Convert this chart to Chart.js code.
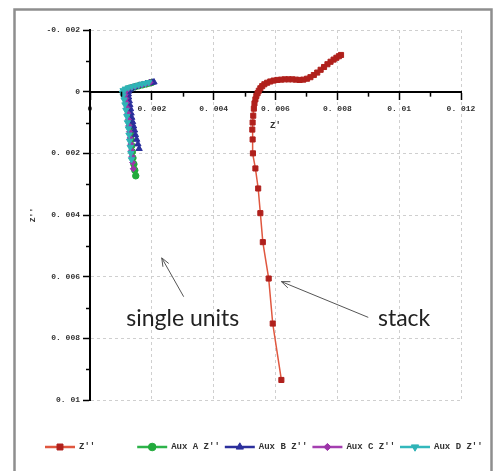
<!DOCTYPE html>
<html><head><meta charset="utf-8">
<script src="https://cdn.jsdelivr.net/npm/chart.js@4.4.1/dist/chart.umd.min.js"></script>
<style>html,body{margin:0;padding:0;background:#fff;}#wrap{position:relative;width:494px;height:471px;}</style>
</head><body><div id="wrap"><canvas id="c"></canvas></div>
<script>
const seriesNames = ["Z''", "Aux A Z''", "Aux B Z''", "Aux C Z''", "Aux D Z''"];
const xTickValues = [0, 0.002, 0.004, 0.006, 0.008, 0.01, 0.012];
const xTickLabels = ['0', '0. 002', '0. 004', '0. 006', '0. 008', '0. 01', '0. 012'];
const yTickValues = [-0.002, 0, 0.002, 0.004, 0.006, 0.008, 0.01];
const yTickLabels = ['-0. 002', '0', '0. 002', '0. 004', '0. 006', '0. 008', '0. 01'];
const xAxisTitle = "Z'";
const yAxisTitle = "Z''";

const stackZ = [[0.00812,-0.00119],[0.00805,-0.00115],[0.00797,-0.00110],[0.00788,-0.00104],[0.00778,-0.00097],[0.00768,-0.00089],[0.00757,-0.00080],[0.00746,-0.00071],[0.00735,-0.00062],[0.00724,-0.00054],[0.00713,-0.00047],[0.00702,-0.00042],[0.00690,-0.00039],[0.00678,-0.00038],[0.00666,-0.00039],[0.00654,-0.00040],[0.00642,-0.00040],[0.00630,-0.00040],[0.00618,-0.00039],[0.00606,-0.00038],[0.00594,-0.00036],[0.00583,-0.00033],[0.00573,-0.00029],[0.00564,-0.00024],[0.00557,-0.00018],[0.00551,-0.00011],[0.00546,-0.00003],[0.00542,0.00005],[0.00538,0.00014],[0.00535,0.00025],[0.00532,0.00038],[0.00530,0.00055],[0.00528,0.00078],[0.00526,0.00100],[0.00525,0.00123],[0.00526,0.00155],[0.00527,0.00200],[0.00535,0.00249],[0.00544,0.00314],[0.00551,0.00394],[0.00559,0.00488],[0.00578,0.00606],[0.00591,0.00752],[0.00619,0.00935]];
const auxA = [[0.00148,0.00273],[0.00145,0.00255],[0.00142,0.00235],[0.00139,0.00215],[0.00137,0.00195],[0.00135,0.00175],[0.00133,0.00155],[0.00131,0.00135],[0.00129,0.00115],[0.00127,0.00095],[0.00125,0.00075],[0.00123,0.00057],[0.00121,0.0004],[0.00119,0.00025],[0.00117,0.00012],[0.00116,0.00002],[0.00118,-0.00006],[0.00125,-0.0001],[0.00135,-0.00013],[0.00146,-0.00016],[0.00158,-0.00019],[0.0017,-0.00022],[0.00182,-0.00025],[0.00193,-0.00028],[0.002,-0.0003]];
const auxB = [[0.00159,0.00185],[0.00155,0.0017],[0.00151,0.00155],[0.00147,0.0014],[0.00144,0.00125],[0.00141,0.00112],[0.00138,0.00098],[0.00135,0.00084],[0.00133,0.0007],[0.00131,0.00056],[0.00129,0.00043],[0.00127,0.0003],[0.00125,0.00018],[0.00124,0.00008],[0.00125,-0.00001],[0.0013,-0.00007],[0.00138,-0.00012],[0.00148,-0.00016],[0.00159,-0.0002],[0.0017,-0.00023],[0.00181,-0.00026],[0.00192,-0.00028],[0.00202,-0.0003],[0.00207,-0.00031]];
const auxC = [[0.0014,0.0025],[0.00138,0.0023],[0.00136,0.0021],[0.00134,0.0019],[0.00132,0.0017],[0.0013,0.0015],[0.00128,0.0013],[0.00126,0.0011],[0.00124,0.0009],[0.00122,0.0007],[0.0012,0.00052],[0.00118,0.00036],[0.00116,0.00022],[0.00114,0.0001],[0.00114,0.0],[0.00118,-0.00007],[0.00126,-0.00011],[0.00136,-0.00015],[0.00147,-0.00018],[0.00159,-0.00021],[0.00171,-0.00024],[0.00183,-0.00027],[0.00194,-0.0003]];
const auxD = [[0.00134,0.0022],[0.00132,0.002],[0.0013,0.0018],[0.00128,0.0016],[0.00126,0.0014],[0.00124,0.0012],[0.00121,0.001],[0.00119,0.0008],[0.00116,0.0006],[0.00113,0.00042],[0.0011,0.00026],[0.00107,0.00013],[0.00105,0.00004],[0.00107,-0.00004],[0.00114,-0.00009],[0.00124,-0.00013],[0.00135,-0.00016],[0.00146,-0.00019],[0.00157,-0.00022],[0.00168,-0.00025],[0.00179,-0.00027],[0.0019,-0.0003]];

const annotations = [
  {text: 'single units', x: 0.0030, y: 0.00735, from: [0.00303, 0.00665], to: [0.00232, 0.00539]},
  {text: 'stack', x: 0.01016, y: 0.00735, from: [0.0090, 0.00732], to: [0.00619, 0.00616]}
];

const toPts = a => a.map(p => ({x: p[0], y: p[1]}));
const labelFor = (vals, labels, v) => {
  let best = 0;
  for (let i = 1; i < vals.length; i++) if (Math.abs(vals[i] - v) < Math.abs(vals[best] - v)) best = i;
  return labels[best];
};
const styles = [
  {line: '#e0573f', fill: '#b0201c', ps: 'rect', r: 3.6, lw: 1.5, rot: 0},
  {line: '#2db34a', fill: '#22aa3c', ps: 'circle', r: 3.2, lw: 1, rot: 0},
  {line: '#2b2f9c', fill: '#2b2f9c', ps: 'triangle', r: 3.6, lw: 1, rot: 0},
  {line: '#a43fb0', fill: '#9c35a8', ps: 'rectRot', r: 3.0, lw: 1, rot: 0},
  {line: '#33b8bc', fill: '#2fb3b6', ps: 'triangle', r: 3.6, lw: 1, rot: 180}
];
const allData = [stackZ, auxA, auxB, auxC, auxD];
const orders = [0, 4, 3, 2, 1];

const datasets = allData.map((d, i) => ({
  label: seriesNames[i],
  data: toPts(d),
  showLine: true,
  borderColor: styles[i].line,
  borderWidth: styles[i].lw,
  backgroundColor: styles[i].fill,
  pointBackgroundColor: styles[i].fill,
  pointBorderColor: styles[i].fill,
  pointBorderWidth: 1,
  pointStyle: styles[i].ps,
  pointRadius: styles[i].r,
  pointRotation: styles[i].rot,
  order: orders[i],
  tension: 0
}));

const TICKFONT = {family: '"Liberation Mono", monospace', size: 8, weight: 'bold'};

const framePlugin = {
  id: 'frame',
  beforeDraw(chart) {
    const ctx = chart.ctx;
    ctx.save();
    ctx.fillStyle = '#fff';
    ctx.fillRect(0, 0, chart.width, chart.height);
    ctx.strokeStyle = '#8e8e8e';
    ctx.lineWidth = 2.5;
    ctx.strokeRect(14.5, 9.5, 477, 490);
    ctx.restore();
  }
};

const minorTicks = {
  id: 'minor',
  afterDraw(chart) {
    const ctx = chart.ctx, xs = chart.scales.x, ys = chart.scales.y;
    ctx.save();
    ctx.strokeStyle = '#000';
    ctx.lineWidth = 1.5;
    const y0 = ys.getPixelForValue(0);
    for (let i = 0; i < xs.ticks.length - 1; i++) {
      const v = (xs.ticks[i].value + xs.ticks[i + 1].value) / 2;
      const px = Math.round(xs.getPixelForValue(v)) + 0.5;
      ctx.beginPath(); ctx.moveTo(px, y0); ctx.lineTo(px, y0 + 5); ctx.stroke();
    }
    const x0 = xs.getPixelForValue(0);
    for (let i = 0; i < ys.ticks.length - 1; i++) {
      const v = (ys.ticks[i].value + ys.ticks[i + 1].value) / 2;
      const py = Math.round(ys.getPixelForValue(v)) + 0.5;
      ctx.beginPath(); ctx.moveTo(x0, py); ctx.lineTo(x0 - 4, py); ctx.stroke();
    }
    ctx.restore();
  }
};

const annPlugin = {
  id: 'ann',
  afterDraw(chart) {
    const ctx = chart.ctx, xs = chart.scales.x, ys = chart.scales.y;
    ctx.save();
    annotations.forEach(a => {
      ctx.fillStyle = '#222';
      ctx.font = '23px Lato, "Open Sans", sans-serif';
      ctx.textAlign = 'center';
      ctx.textBaseline = 'middle';
      ctx.fillText(a.text, xs.getPixelForValue(a.x), ys.getPixelForValue(a.y));
      const x1 = xs.getPixelForValue(a.from[0]), y1 = ys.getPixelForValue(a.from[1]);
      const x2 = xs.getPixelForValue(a.to[0]), y2 = ys.getPixelForValue(a.to[1]);
      ctx.strokeStyle = '#555';
      ctx.lineWidth = 1;
      ctx.beginPath(); ctx.moveTo(x1, y1); ctx.lineTo(x2, y2); ctx.stroke();
      const ang = Math.atan2(y1 - y2, x1 - x2), L = 9, s = 0.38;
      ctx.beginPath();
      ctx.moveTo(x2 + L * Math.cos(ang + s), y2 + L * Math.sin(ang + s));
      ctx.lineTo(x2, y2);
      ctx.lineTo(x2 + L * Math.cos(ang - s), y2 + L * Math.sin(ang - s));
      ctx.stroke();
    });
    ctx.restore();
  }
};

const legendPlugin = {
  id: 'lg',
  afterDraw(chart) {
    const ctx = chart.ctx;
    ctx.save();
    ctx.font = 'bold 9px "Liberation Mono", monospace';
    ctx.textBaseline = 'middle';
    ctx.textAlign = 'left';
    let x = 45;
    const y = 447;
    chart.data.datasets.forEach((ds, i) => {
      ctx.strokeStyle = ds.borderColor;
      ctx.lineWidth = 2.5;
      ctx.beginPath(); ctx.moveTo(x, y); ctx.lineTo(x + 30, y); ctx.stroke();
      ctx.fillStyle = ds.pointBackgroundColor;
      ctx.strokeStyle = ds.pointBorderColor;
      ctx.lineWidth = 1;
      Chart.helpers.drawPoint(ctx, {pointStyle: ds.pointStyle, rotation: ds.pointRotation, radius: ds.pointRadius + 0.6, borderWidth: 1}, x + 15, y);
      ctx.fillStyle = '#333';
      ctx.fillText(ds.label, x + 34, y);
      x += 34 + ctx.measureText(ds.label).width + 5 + (i === 0 ? 37 : 0);
    });
    ctx.restore();
  }
};

new Chart(document.getElementById('c'), {
  type: 'scatter',
  data: {datasets},
  plugins: [framePlugin, minorTicks, annPlugin, legendPlugin],
  options: {
    responsive: true,
    maintainAspectRatio: false,
    animation: false,
    layout: {padding: {left: 20, right: 33, top: 30, bottom: 71}},
    plugins: {legend: {display: false}, tooltip: {enabled: false}},
    scales: {
      x: {
        type: 'linear',
        position: {y: 0},
        min: 0, max: 0.012,
        ticks: {stepSize: 0.002, font: TICKFONT, color: '#333', padding: 6, maxRotation: 0,
          callback: v => labelFor(xTickValues, xTickLabels, v)},
        grid: {color: '#cfcfcf', lineWidth: 1, tickLength: 7, tickColor: '#000', tickWidth: 1.5},
        border: {display: true, color: '#000', width: 2, dash: [3, 3]},
        title: {display: true, text: xAxisTitle, font: {family: '"Liberation Mono", monospace', size: 9, weight: 'bold'}, color: '#333', padding: {top: 0, bottom: 0}}
      },
      y: {
        type: 'linear',
        position: 'left',
        reverse: true,
        min: -0.002, max: 0.01,
        afterFit: s => { s.width = 70; },
        ticks: {stepSize: 0.002, font: TICKFONT, color: '#333', padding: 3,
          callback: v => labelFor(yTickValues, yTickLabels, v)},
        grid: {color: '#cfcfcf', lineWidth: 1, tickLength: 7, tickColor: '#000', tickWidth: 1.5},
        border: {display: true, color: '#000', width: 2, dash: [3, 3]},
        title: {display: true, text: yAxisTitle, font: {family: '"Liberation Mono", monospace', size: 8, weight: 'bold'}, color: '#333', padding: {top: 8, bottom: 0}}
      }
    }
  }
});
</script>
</body></html>
